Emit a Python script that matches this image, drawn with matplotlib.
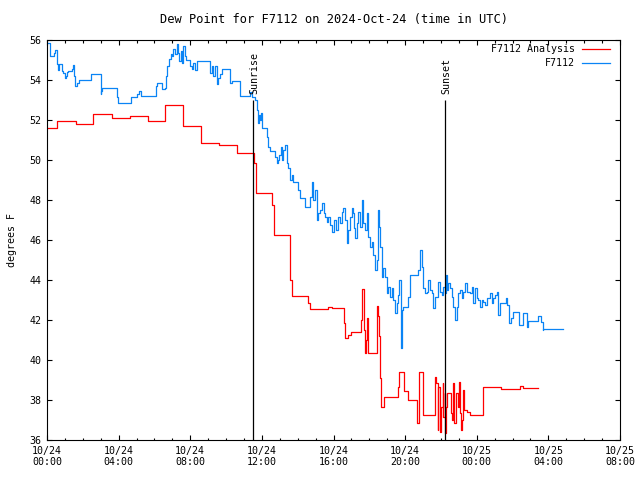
#!/usr/bin/env python3
import matplotlib
matplotlib.use('Agg')
import matplotlib.pyplot as plt
from matplotlib.ticker import MultipleLocator
import numpy as np

plt.rcParams['font.family'] = 'DejaVu Sans Mono'
plt.rcParams['font.size'] = 7.2

# hours since 2024-10-24 00:00 UTC
analysis_hours = [0.00, 0.54, 1.60, 2.57, 3.61, 4.64, 5.66, 6.59, 7.58, 8.58,
                  9.62, 10.63, 11.58, 11.67, 12.58, 12.68, 13.57, 13.70, 14.59, 14.71,
                  15.68, 15.90, 16.59, 16.64, 16.83, 16.96, 17.52, 17.61, 17.68, 17.76,
                  17.84, 17.89, 17.93, 18.45, 18.49, 18.54, 18.60, 18.65, 18.80, 19.62,
                  19.67, 19.95, 20.18, 20.65, 20.68, 20.78, 20.98, 21.67, 21.74, 21.81,
                  21.86, 21.92, 21.97, 22.03, 22.09, 22.14, 22.20, 22.25, 22.31, 22.36,
                  22.47, 22.58, 22.62, 22.68, 22.74, 22.85, 22.96, 23.02, 23.07, 23.13,
                  23.18, 23.24, 23.30, 23.46, 23.62, 24.35, 25.37, 26.39, 26.57, 27.40]
analysis_dewp = [51.6, 51.93, 51.78, 52.3, 52.1, 52.2, 51.93, 52.75, 51.7, 50.87,
                 50.75, 50.33, 49.85, 48.33, 47.75, 46.25, 44.0, 43.2, 42.85, 42.53,
                 42.67, 42.6, 41.83, 41.08, 41.25, 41.38, 42.0, 43.53, 41.5, 40.33,
                 41.0, 42.1, 40.33, 42.7, 42.2, 41.2, 39.1, 37.67, 38.13, 38.67,
                 39.38, 38.47, 38.0, 37.58, 36.83, 39.38, 37.23, 39.13, 38.83, 36.5,
                 38.67, 37.67, 36.42, 37.67, 38.83, 37.17, 38.33, 36.33, 37.67, 38.33,
                 38.33, 37.33, 37.0, 38.83, 36.83, 38.33, 37.67, 38.92, 37.33, 36.5,
                 37.0, 38.5, 37.5, 37.38, 37.25, 38.63, 38.53, 38.7, 38.6, 38.6]

obs_hours = [0.00, 0.15, 0.39, 0.45, 0.54, 0.61, 0.65, 0.85, 0.91, 0.99,
             1.04, 1.10, 1.19, 1.41, 1.47, 1.51, 1.55, 1.69, 1.79, 2.44,
             3.00, 3.03, 3.09, 3.89, 3.97, 4.67, 5.04, 5.14, 5.23, 6.09,
             6.16, 6.41, 6.59, 6.65, 6.72, 6.83, 6.91, 6.96, 7.05, 7.15,
             7.24, 7.32, 7.39, 7.47, 7.54, 7.61, 7.69, 7.76, 7.99, 8.08,
             8.17, 8.27, 8.36, 9.10, 9.20, 9.29, 9.38, 9.48, 9.57, 9.66,
             9.76, 10.22, 10.31, 10.78, 11.34, 11.45, 11.62, 11.71, 11.77, 11.84,
             11.90, 11.95, 12.02, 12.27, 12.36, 12.45, 12.73, 12.83, 12.92, 12.97,
             13.07, 13.14, 13.20, 13.29, 13.39, 13.48, 13.57, 13.67, 13.76, 14.03,
             14.13, 14.41, 14.69, 14.78, 14.87, 14.97, 15.06, 15.15, 15.25, 15.37,
             15.47, 15.53, 15.62, 15.71, 15.80, 15.93, 16.04, 16.12, 16.27, 16.36,
             16.46, 16.55, 16.64, 16.74, 16.83, 16.92, 17.02, 17.11, 17.16, 17.20,
             17.30, 17.39, 17.48, 17.57, 17.66, 17.76, 17.85, 17.94, 18.04, 18.13,
             18.22, 18.32, 18.41, 18.50, 18.56, 18.60, 18.69, 18.78, 18.88, 18.97,
             19.06, 19.16, 19.25, 19.34, 19.43, 19.53, 19.62, 19.67, 19.75, 19.83,
             19.90, 20.18, 20.27, 20.74, 20.83, 20.93, 21.02, 21.11, 21.21, 21.29,
             21.39, 21.48, 21.57, 21.67, 21.85, 21.95, 22.04, 22.13, 22.23, 22.28,
             22.36, 22.41, 22.51, 22.60, 22.69, 22.79, 22.88, 22.97, 23.06, 23.16,
             23.25, 23.34, 23.44, 23.62, 23.72, 23.81, 23.90, 23.99, 24.09, 24.18,
             24.28, 24.37, 24.46, 24.56, 24.74, 24.84, 24.93, 25.02, 25.11, 25.20,
             25.30, 25.63, 25.71, 25.80, 25.90, 26.01, 26.38, 26.57, 26.79, 26.88,
             27.40, 27.59, 27.68, 27.72, 28.83]
obs_dewp = [55.83, 55.2, 55.37, 55.5, 54.78, 54.5, 54.78, 54.45, 54.37, 54.08,
            54.2, 54.4, 54.45, 54.53, 54.73, 54.2, 53.7, 53.87, 54.0, 54.28,
            53.28, 53.45, 53.62, 53.17, 52.87, 53.17, 53.28, 53.45, 53.2, 53.7,
            53.87, 53.53, 53.62, 54.2, 54.7, 55.03, 55.28, 55.2, 55.53, 55.28,
            55.78, 55.37, 54.95, 55.45, 54.87, 55.7, 55.2, 55.0, 54.7, 54.53,
            54.87, 54.5, 54.95, 54.37, 54.7, 54.2, 54.7, 53.78, 54.12, 54.28,
            54.53, 53.87, 53.95, 53.2, 53.42, 53.17, 53.0, 52.5, 51.83, 52.25,
            52.0, 52.33, 51.58, 51.17, 50.67, 50.47, 50.17, 49.83, 50.0, 50.25,
            50.67, 50.0, 50.5, 50.75, 49.83, 49.58, 49.0, 49.25, 48.92, 48.5,
            48.08, 47.67, 48.17, 48.92, 48.0, 48.5, 47.0, 47.33, 47.5, 47.83,
            47.33, 47.17, 46.92, 47.17, 46.75, 46.42, 47.0, 46.5, 47.17, 46.83,
            47.42, 47.58, 47.0, 45.83, 46.5, 47.17, 47.58, 47.33, 46.58, 46.08,
            46.83, 47.42, 46.67, 48.0, 46.83, 46.5, 47.33, 46.17, 45.67, 45.92,
            45.25, 44.5, 45.0, 47.5, 46.67, 45.67, 44.17, 44.58, 44.17, 43.33,
            43.67, 43.17, 43.58, 43.0, 42.33, 42.83, 43.25, 44.0, 40.58, 42.5,
            42.67, 43.17, 44.25, 44.5, 45.5, 44.67, 43.58, 43.33, 43.42, 44.0,
            43.5, 43.33, 42.58, 43.17, 43.92, 43.42, 43.25, 43.67, 43.33, 44.25,
            43.5, 43.83, 43.58, 43.17, 42.67, 42.0, 42.67, 43.33, 43.5, 43.08,
            43.42, 43.83, 43.42, 43.33, 43.67, 42.83, 43.58, 43.08, 43.0, 42.67,
            43.0, 42.92, 42.75, 43.08, 43.33, 42.83, 43.08, 43.25, 43.42, 42.25,
            42.83, 43.08, 42.75, 41.83, 42.08, 42.42, 41.75, 42.33, 41.67, 41.95,
            42.2, 41.92, 41.5, 41.55, 41.55]

sunrise_hour = 11.50
sunset_hour = 22.23
event_top = 53.0

xtick_hours = [0, 4, 8, 12, 16, 20, 24, 28, 32]
xtick_labels = ['10/24\n00:00', '10/24\n04:00', '10/24\n08:00', '10/24\n12:00',
                '10/24\n16:00', '10/24\n20:00', '10/25\n00:00', '10/25\n04:00',
                '10/25\n08:00']

fig = plt.figure(figsize=(6.4, 4.8), dpi=100)
ax = fig.add_axes([47/640, 40/480, 573/640, 400/480])

ax.plot(analysis_hours, analysis_dewp, color='#ff0000', lw=0.9, drawstyle='steps-post')
ax.plot(obs_hours, obs_dewp, color='#0a84f5', lw=0.9, drawstyle='steps-post')

ax.vlines([sunrise_hour, sunset_hour], 36, event_top, color='black', lw=0.9)
ax.text(sunrise_hour + 0.1, event_top + 0.3, 'Sunrise', rotation=90, ha='center', va='bottom')
ax.text(sunset_hour + 0.05, event_top + 0.3, 'Sunset', rotation=90, ha='center', va='bottom')

ax.set_xlim(0, 32)
ax.set_ylim(36, 56)
ax.set_xticks(xtick_hours)
ax.set_xticklabels(xtick_labels)
ax.xaxis.set_minor_locator(MultipleLocator(1))
ax.set_yticks(np.arange(36, 57, 2))
ax.tick_params(which='both', direction='in', top=True, right=True, width=0.8)
ax.tick_params(which='major', length=3.5, pad=4)
ax.tick_params(which='minor', length=1.8)
for s in ax.spines.values():
    s.set_linewidth(0.8)

ax.set_title('Dew Point for F7112 on 2024-Oct-24 (time in UTC)', pad=12)
ax.set_ylabel('degrees F', labelpad=9)

# gnuplot style key: right-justified text, sample line to the right
key = [('F7112 Analysis', '#ff0000'), ('F7112', '#0a84f5')]
for i, (name, col) in enumerate(key):
    yk = 0.9775 - i * 0.035
    ax.text(0.921, yk, name, transform=ax.transAxes, ha='right', va='center')
    ax.plot([0.934, 0.983], [yk, yk], transform=ax.transAxes, color=col, lw=0.9)

fig.savefig('out.png', dpi=100)
